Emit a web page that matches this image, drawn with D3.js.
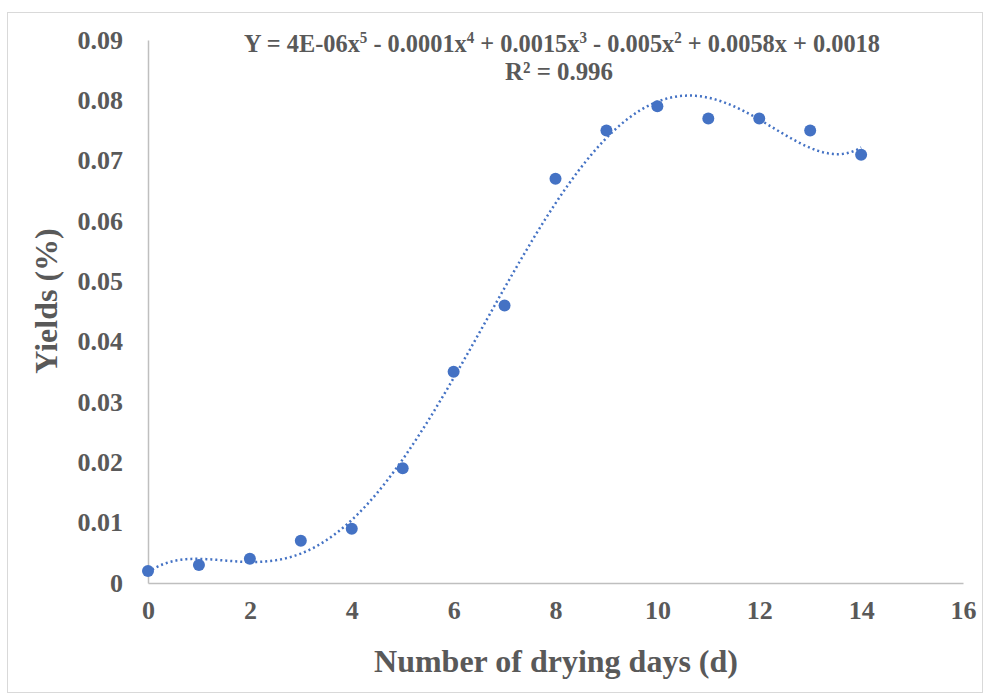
<!DOCTYPE html>
<html>
<head>
<meta charset="utf-8">
<title>Yields vs drying days</title>
<script src="https://cdn.jsdelivr.net/npm/d3@7"></script>
<style>
body { margin: 0; background: #fff; }
svg text { font-family: "Liberation Serif", "Times New Roman", serif; font-weight: bold; fill: #595959; }
</style>
</head>
<body>
<script>
// measured yields per drying day
var days = [0, 1, 2, 3, 4, 5, 6, 7, 8, 9, 10, 11, 12, 13, 14];
var yields = [0.002, 0.003, 0.004, 0.007, 0.009, 0.019, 0.035, 0.046, 0.067, 0.075, 0.079, 0.077, 0.077, 0.075, 0.071];
var xTicks = [0, 2, 4, 6, 8, 10, 12, 14, 16];
var yTicks = [0, 0.01, 0.02, 0.03, 0.04, 0.05, 0.06, 0.07, 0.08, 0.09];

var width = 989, height = 698;
var plotLeft = 148, plotRight = 963, plotTop = 40, plotBottom = 583;

var svg = d3.select("body").append("svg")
    .attr("width", width)
    .attr("height", height);

// chart frame
svg.append("rect")
    .attr("x", 7.5).attr("y", 12.5)
    .attr("width", 975).attr("height", 680)
    .attr("fill", "none").attr("stroke", "#d9d9d9");

var x = d3.scaleLinear().domain([0, 16]).range([plotLeft, plotRight]);
var y = d3.scaleLinear().domain([0, 0.09]).range([plotBottom, plotTop]);

// axes
var xAxis = svg.append("g")
    .attr("transform", "translate(0," + plotBottom + ")")
    .call(d3.axisBottom(x).tickValues(xTicks).tickSize(0).tickPadding(18).tickFormat(d3.format("d")));
var yAxis = svg.append("g")
    .attr("transform", "translate(" + plotLeft + ",0)")
    .call(d3.axisLeft(y).tickValues(yTicks).tickSize(0).tickPadding(25).tickFormat(function(d) { return d == 0 ? "0" : d3.format(".2f")(d); }));
svg.selectAll(".domain").attr("stroke", "#bfbfbf").attr("stroke-width", 1.5);
svg.selectAll(".tick text").style("font-size", "26px").attr("fill", "#595959");
xAxis.selectAll(".tick text").attr("dy", "0.71em");

// polynomial trendline (order 5, least squares, x scaled for stability)
function polyFit(xs, ys, order) {
    var n = order + 1, s = 14;
    var A = [], b = [];
    for (var i = 0; i < n; i++) {
        A.push(new Array(n).fill(0));
        b.push(0);
    }
    xs.forEach(function(xv, k) {
        var t = xv / s;
        for (var i = 0; i < n; i++) {
            b[i] += ys[k] * Math.pow(t, i);
            for (var j = 0; j < n; j++) A[i][j] += Math.pow(t, i + j);
        }
    });
    for (var c = 0; c < n; c++) {
        var p = c;
        for (var r = c + 1; r < n; r++) if (Math.abs(A[r][c]) > Math.abs(A[p][c])) p = r;
        var tmp = A[c]; A[c] = A[p]; A[p] = tmp;
        var tb = b[c]; b[c] = b[p]; b[p] = tb;
        for (var r = c + 1; r < n; r++) {
            var f = A[r][c] / A[c][c];
            for (var j = c; j < n; j++) A[r][j] -= f * A[c][j];
            b[r] -= f * b[c];
        }
    }
    var coef = new Array(n).fill(0);
    for (var i = n - 1; i >= 0; i--) {
        var sum = b[i];
        for (var j = i + 1; j < n; j++) sum -= A[i][j] * coef[j];
        coef[i] = sum / A[i][i];
    }
    return function(xv) {
        var t = xv / s, v = 0;
        for (var i = 0; i < n; i++) v += coef[i] * Math.pow(t, i);
        return v;
    };
}
var trend = polyFit(days, yields, 5);
var trendPts = d3.range(0, 14.001, 0.05).map(function(d) { return [d, trend(d)]; });

svg.append("path")
    .datum(trendPts)
    .attr("fill", "none")
    .attr("stroke", "#4472c4")
    .attr("stroke-width", 2.5)
    .attr("stroke-dasharray", "2,3")
    .attr("d", d3.line().x(function(d) { return x(d[0]); }).y(function(d) { return y(d[1]); }));

// points
svg.selectAll("circle.pt")
    .data(days)
    .enter().append("circle")
    .attr("class", "pt")
    .attr("cx", function(d) { return x(d); })
    .attr("cy", function(d, i) { return y(yields[i]); })
    .attr("r", 6)
    .attr("fill", "#4472c4");

// trendline label (narrow type, as in the original)
var eq = svg.append("text")
    .attr("x", 244).attr("y", 52)
    .attr("textLength", 636)
    .attr("lengthAdjust", "spacingAndGlyphs")
    .style("font-size", "26px");
var parts = [["Y = 4E-06x", ""], ["5", "sup"], [" - 0.0001x", ""], ["4", "sup"], [" + 0.0015x", ""], ["3", "sup"],
             [" - 0.005x", ""], ["2", "sup"], [" + 0.0058x + 0.0018", ""]];
parts.forEach(function(p, i) {
    var ts = eq.append("tspan").text(p[0]);
    if (p[1] == "sup") ts.attr("dy", -9).style("font-size", "16px");
    else if (i > 0) ts.attr("dy", 9);
});
svg.append("text")
    .attr("x", 505).attr("y", 80)
    .attr("textLength", 108)
    .attr("lengthAdjust", "spacingAndGlyphs")
    .style("font-size", "26px")
    .text("R² = 0.996");

// axis titles
svg.append("text")
    .attr("x", 556).attr("y", 672)
    .attr("text-anchor", "middle")
    .style("font-size", "32px")
    .text("Number of drying days (d)");
svg.append("text")
    .attr("transform", "translate(57,301) rotate(-90)")
    .attr("text-anchor", "middle")
    .style("font-size", "32px")
    .text("Yields (%)");
</script>
</body>
</html>
